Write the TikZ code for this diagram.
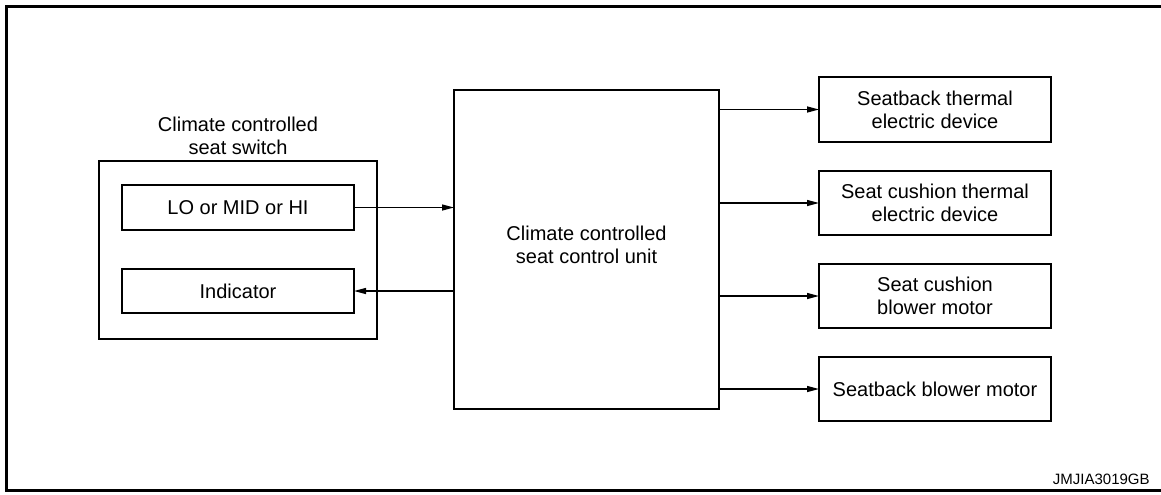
\documentclass[tikz,border=0pt]{standalone}
\usepackage{fontspec}
\setmainfont{Liberation Sans}
\usetikzlibrary{arrows.meta}

\begin{document}
\begin{tikzpicture}[x=0.5pt,y=-0.5pt,
  blk/.style={draw, line width=0.7pt, inner sep=0pt, outer sep=0pt, align=center,
    font=\fontsize{10}{11.5}\selectfont},
  sig/.style={line width=0.7pt, -{Triangle[length=6pt,width=3pt]}}]
\useasboundingbox (0,0) rectangle (1161,494);
\draw[line width=1.5pt] (1161,6.5) -- (6.5,6.5) -- (6.5,490.5) -- (1161,490.5);
\node[align=center, font=\fontsize{10}{11.5}\selectfont] (swtitle) at (238,136) {Climate controlled\\seat switch};
\node[blk, minimum width=139pt, minimum height=89pt] (sw) at (238,250) {};
\node[blk, minimum width=116pt, minimum height=22.5pt] (lo) at (238,207.5) {LO or MID or HI};
\node[blk, minimum width=116pt, minimum height=22pt] (ind) at (238,291) {Indicator};
\node[blk, minimum width=132.5pt, minimum height=159.5pt] (ccu) at (586.5,249.5) {};
\node[align=center, font=\fontsize{10}{11.5}\selectfont] (ccutext) at (586.5,244.5) {Climate controlled\\seat control unit};
\node[blk, minimum width=116pt, minimum height=32.5pt] (sbt) at (935,109.5) {Seatback thermal\\electric device};
\node[blk, minimum width=116pt, minimum height=32pt] (sct) at (935,203) {Seat cushion thermal\\electric device};
\node[blk, minimum width=116pt, minimum height=32pt] (scb) at (935,296) {Seat cushion\\blower motor};
\node[blk, minimum width=116pt, minimum height=32pt] (sbb) at (935,389) {Seatback blower motor};
\node[anchor=east, inner sep=0pt, font=\fontsize{7.5}{9}\selectfont] (code) at (1150,479) {JMJIA3019GB};
\draw[sig] (lo.east) -- (lo.east -| ccu.west);
\draw[sig] (ccu.west |- ind.east) -- (ind.east);
\draw[sig] (ccu.east |- sbt.west) -- (sbt.west);
\draw[sig] (ccu.east |- sct.west) -- (sct.west);
\draw[sig] (ccu.east |- scb.west) -- (scb.west);
\draw[sig] (ccu.east |- sbb.west) -- (sbb.west);
\end{tikzpicture}
\end{document}
